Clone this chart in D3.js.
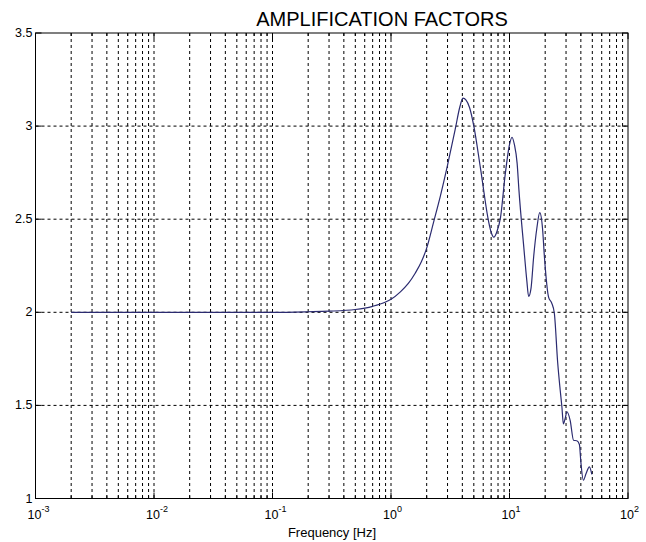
<!DOCTYPE html>
<html><head><meta charset="utf-8">
<script src="https://cdn.jsdelivr.net/npm/d3@7"></script>
<style>body{margin:0;background:#fff;}svg{display:block;font-family:"Liberation Sans",Arial,sans-serif;}</style>
</head><body>
<script>
const title = "AMPLIFICATION FACTORS";
const xLabel = "Frequency [Hz]";
const xDecades = [-3, -2, -1, 0, 1, 2];
const yTicks = [1, 1.5, 2, 2.5, 3, 3.5];
const freq = [0.002, 0.01, 0.05, 0.1, 0.2, 0.3, 0.5, 0.7, 0.9, 1.0, 1.2, 1.4, 1.6, 1.8, 2.0, 2.3, 2.6, 3.0, 3.5, 3.8, 4.05, 4.3, 4.6, 5.0, 5.7, 6.7, 7.0, 7.38, 7.8, 8.4, 9.2, 10.0, 10.5, 11.0, 11.6, 12.0, 13.2, 14.0, 14.5, 15.2, 16.0, 17.0, 18.0, 19.0, 19.7, 21.4, 22.7, 23.9, 25.5, 26.8, 27.7, 28.5, 29.5, 30.5, 32.5, 34.7, 37.0, 38.9, 40.0, 42.0, 44.3, 47.2, 49.5];
const amp  = [2.0, 2.0, 2.0, 2.0, 2.003, 2.006, 2.015, 2.032, 2.055, 2.07, 2.11, 2.155, 2.21, 2.27, 2.345, 2.49, 2.62, 2.79, 2.99, 3.10, 3.15, 3.14, 3.10, 3.0, 2.77, 2.48, 2.43, 2.403, 2.43, 2.51, 2.74, 2.90, 2.94, 2.90, 2.80, 2.66, 2.35, 2.17, 2.085, 2.13, 2.30, 2.45, 2.535, 2.45, 2.30, 2.08, 2.05, 1.995, 1.73, 1.58, 1.49, 1.40, 1.43, 1.466, 1.42, 1.313, 1.31, 1.29, 1.197, 1.098, 1.134, 1.17, 1.13];

const W = 646, H = 542;
const L = 35.5, R = 628, T = 33, B = 498.5;
const svg = d3.select("body").append("svg").attr("width", W).attr("height", H);
const x = d3.scaleLog().domain([1e-3, 1e2]).range([L, R]);
const y = d3.scaleLinear().domain([1, 3.5]).range([B, T]);

// minor + major vertical grid
const vgrid = [];
for (let d = -3; d < 2; d++) for (let k = 1; k <= 9; k++) { const v = k * Math.pow(10, d); if (v > 1e-3) vgrid.push(v); }
const g = svg.append("g");
g.selectAll("line.v").data(vgrid).enter().append("line")
  .attr("x1", d => x(d)).attr("x2", d => x(d)).attr("y1", T).attr("y2", B)
  .attr("stroke", "#000").attr("stroke-width", 1).attr("stroke-dasharray", "3,3");
g.selectAll("line.h").data(yTicks.slice(1, -1)).enter().append("line")
  .attr("x1", L).attr("x2", R).attr("y1", d => y(d)).attr("y2", d => y(d))
  .attr("stroke", "#000").attr("stroke-width", 1).attr("stroke-dasharray", "3,3");

// ticks inside
const majors = xDecades.map(d => Math.pow(10, d));
const tk = svg.append("g").attr("stroke", "#000").attr("stroke-width", 1);
majors.forEach(v => {
  tk.append("line").attr("x1", x(v)).attr("x2", x(v)).attr("y1", B).attr("y2", B - 6);
  tk.append("line").attr("x1", x(v)).attr("x2", x(v)).attr("y1", T).attr("y2", T + 6);
});
vgrid.filter(v => !majors.includes(v)).forEach(v => {
  tk.append("line").attr("x1", x(v)).attr("x2", x(v)).attr("y1", B).attr("y2", B - 3);
  tk.append("line").attr("x1", x(v)).attr("x2", x(v)).attr("y1", T).attr("y2", T + 3);
});
yTicks.forEach(v => {
  tk.append("line").attr("x1", L).attr("x2", L + 6).attr("y1", y(v)).attr("y2", y(v));
  tk.append("line").attr("x1", R).attr("x2", R - 6).attr("y1", y(v)).attr("y2", y(v));
});

// box
svg.append("rect").attr("x", L).attr("y", T).attr("width", R - L).attr("height", B - T)
  .attr("fill", "none").attr("stroke", "#000").attr("stroke-width", 1);

// curve
const data = freq.map((f, i) => [f, amp[i]]);
svg.append("path").datum(data)
  .attr("d", d3.line().x(d => x(d[0])).y(d => y(d[1])).curve(d3.curveMonotoneX))
  .attr("fill", "none").attr("stroke", "#2b2b70").attr("stroke-width", 1.2);

// y labels
svg.selectAll("text.yl").data(yTicks).enter().append("text")
  .attr("x", L - 3).attr("y", d => y(d) + 4).attr("text-anchor", "end")
  .attr("font-size", 12.5).text(d => d3.format("")(d));

// x labels with superscripts
xDecades.forEach(d => {
  const t = svg.append("text").attr("x", x(Math.pow(10, d)) - 8).attr("y", 518.5)
    .attr("text-anchor", "start").attr("font-size", 12.5);
  t.append("tspan").text("10");
  t.append("tspan").attr("dy", -7).attr("font-size", 9).text(String(d));
});

svg.append("text").attr("x", 332).attr("y", 537).attr("text-anchor", "middle")
  .attr("font-size", 13).text(xLabel);
svg.append("text").attr("x", 382).attr("y", 26).attr("text-anchor", "middle")
  .attr("font-size", 20).text(title);
</script>
</body></html>
